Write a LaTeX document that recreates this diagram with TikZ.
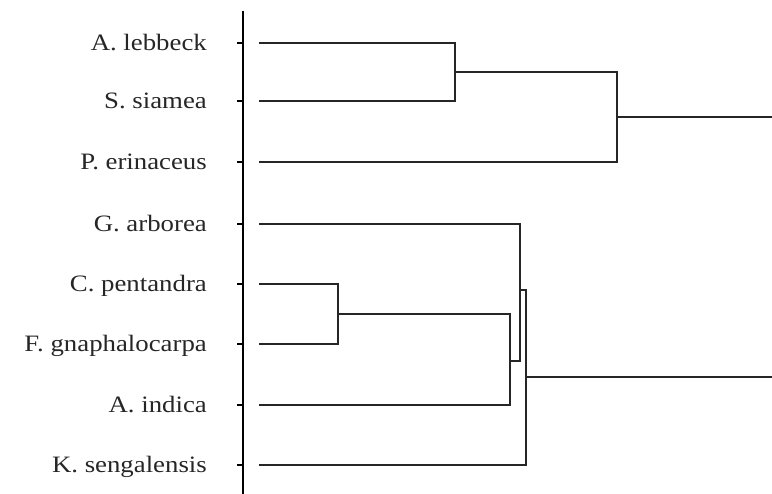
\documentclass[tikz,border=0pt]{standalone}
\usepackage{fontspec}
\setmainfont{Liberation Serif}[FakeStretch=1.14]
\begin{document}
\begin{tikzpicture}[x=1pt,y=-1pt,
  lbl/.style={anchor=base east,inner sep=0pt,font=\fontsize{23.5}{26}\selectfont,text=black!85},
  edge/.style={line width=1.4pt,black!85},
  axisline/.style={line width=1.4pt,black}]
\useasboundingbox (0,0) rectangle (772,494);
% axis
\coordinate (atop) at (243,11);
\coordinate (abot) at (243,494);
\draw[axisline] (atop) -- (abot);
% leaves
\foreach \i/\y/\t in {1/43/A. lebbeck,2/101/S. siamea,3/162/P. erinaceus,4/224/G. arborea,5/284/C. pentandra,6/344/F. gnaphalocarpa,7/405/A. indica,8/465/K. sengalensis}{
  \node[lbl] (t\i) at (207,\y+8) {\t};
  \coordinate (k\i) at (237,\y);
  \coordinate (a\i) at (243,\y);
  \coordinate (l\i) at (259,\y);
  \draw[axisline] (k\i) -- (a\i);
}
% joints
\coordinate (j1) at (455,72);
\coordinate (j2) at (617,117);
\coordinate (r1) at (772,117);
\coordinate (j3) at (338,314);
\coordinate (j4) at (510,361);
\coordinate (j5) at (520,290);
\coordinate (j6) at (526,377);
\coordinate (r2) at (772,377);
% cluster 1
\draw[edge] (l1) -| (j1) |- (l2);
\draw[edge] (j1) -| (j2) |- (l3);
\draw[edge] (j2) -- (r1);
% cluster 2
\draw[edge] (l5) -| (j3) |- (l6);
\draw[edge] (j3) -| (j4) |- (l7);
\draw[edge] (j4) -| (j5) |- (l4);
\draw[edge] (j5) -| (j6) |- (l8);
\draw[edge] (j6) -- (r2);
\end{tikzpicture}
\end{document}
